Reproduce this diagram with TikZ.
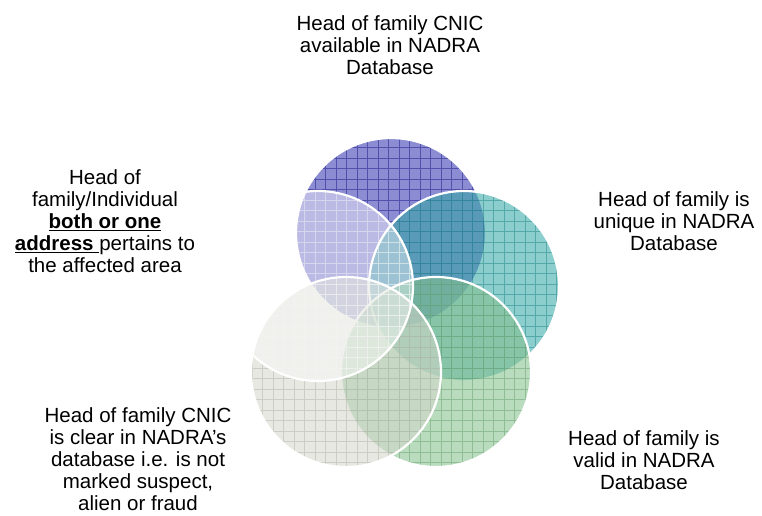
\documentclass[tikz,border=0pt]{standalone}
\usepackage{fontspec}
\setmainfont{Liberation Sans}
\usetikzlibrary{positioning}
\definecolor{cA}{RGB}{51,51,175}
\definecolor{cB}{RGB}{51,166,166}
\definecolor{cC}{RGB}{131,193,140}
\definecolor{cD}{RGB}{211,214,202}
\tikzset{
  lbl/.style={align=center, inner sep=0pt, text=black,
    font=\fontsize{20.5}{22}\selectfont},
  ring/.style={draw=white, line width=2.2pt},
}

\begin{document}
\begin{tikzpicture}[x=1pt, y=1pt]
    \useasboundingbox (0,0) rectangle (762,515);
    \coordinate (A) at (391,282);
    \coordinate (B) at (464,229);
    \coordinate (C) at (436,143);
    \coordinate (D) at (346,143);
    \coordinate (E) at (318,229);
    % circles, first one lies lowest
    \foreach \c/\f/\a/\g/\o in {A/cA/.565/cA!85!black/.6, B/cB/.565/cB!85!black/.55,
        C/cC/.565/cC!85!black/.55, D/cD/.565/cD!85!black/.5, E/white/.4/white/.6}{
      \begin{scope}
        \clip (\c) circle (95);
        \fill[\f, opacity=\a] (\c) circle (95);
        \draw[\g, opacity=\o, line width=.7pt, step=10.5] (210,30) grid (580,400);
      \end{scope}
      \draw[ring] (\c) circle (95);
    }
    % labels
    \node[lbl] (tA) at (390,470) {Head of family CNIC\\available in NADRA\\Database};
    \node[lbl] (tB) at (674,294) {Head of family is\\unique in NADRA\\Database};
    \node[lbl] (tC) at (644,55) {Head of family is\\valid in NADRA\\Database};
    \node[lbl] (tD) at (138,55.5) {Head of family CNIC\\is clear in NADRA’s\\database i.e. is not\\marked suspect,\\alien or fraud};
    \node[lbl] (tE) at (105,294) {Head of\\family/Individual\\\underline{\textbf{both or one}}\\\underline{\textbf{address }}pertains to\\the affected area};
\end{tikzpicture}
\end{document}
